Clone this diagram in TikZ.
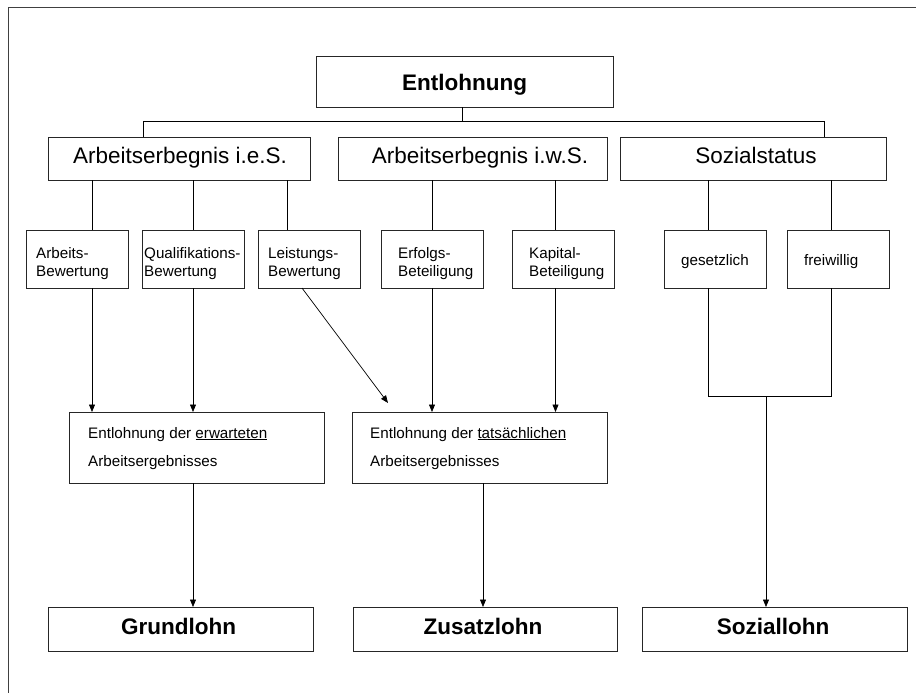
\documentclass[tikz,border=0pt]{standalone}
\usepackage{fontspec}
\setmainfont{Liberation Sans}
\usetikzlibrary{arrows.meta}
\begin{document}
\begin{tikzpicture}[x=1pt,y=-1pt,
  box/.style={draw=black!85, line width=0.9pt, inner sep=0pt, outer sep=0pt},
  bigtxt/.style={font=\fontsize{22.5}{27}\selectfont, inner sep=0pt, anchor=base},
  bigbold/.style={font=\fontsize{22.5}{27}\selectfont\bfseries, inner sep=0pt, anchor=base},
  smalltxt/.style={font=\fontsize{15.2}{17}\selectfont, inner sep=0pt, anchor=base west},
  conn/.style={line width=0.7pt, draw=black},
  arr/.style={conn, -{Triangle[length=7.5pt,width=6pt]}}
]
\useasboundingbox (0,0) rectangle (916,693);
\fill[white] (0,0) rectangle (916,693);
% frame
\draw[black!75, line width=0.8pt] (8,693) -- (8,7) -- (916,7);

% boxes
\node[box, minimum width=297pt, minimum height=51pt] (bEnt) at (464.5,81.5) {};
\node[box, minimum width=262pt, minimum height=43pt] (b1) at (179,158.5) {};
\node[box, minimum width=269pt, minimum height=43pt] (b2) at (472.5,158.5) {};
\node[box, minimum width=266pt, minimum height=43pt] (b3) at (753,158.5) {};

\node[box, minimum width=102pt, minimum height=58pt] (bA) at (77,259) {};
\node[box, minimum width=102pt, minimum height=58pt] (bQ) at (193,259) {};
\node[box, minimum width=102pt, minimum height=58pt] (bL) at (309,259) {};
\node[box, minimum width=102pt, minimum height=58pt] (bE) at (432,259) {};
\node[box, minimum width=102pt, minimum height=58pt] (bK) at (563,259) {};
\node[box, minimum width=102pt, minimum height=58pt] (bG) at (715,259) {};
\node[box, minimum width=102pt, minimum height=58pt] (bF) at (838,259) {};

\node[box, minimum width=255pt, minimum height=71pt] (bLow1) at (196.5,447.5) {};
\node[box, minimum width=255pt, minimum height=71pt] (bLow2) at (479.5,447.5) {};

\node[box, minimum width=265pt, minimum height=44pt] (bGr) at (180.5,629) {};
\node[box, minimum width=264pt, minimum height=44pt] (bZu) at (485,629) {};
\node[box, minimum width=265pt, minimum height=44pt] (bSo) at (774.5,629) {};

% texts
\node[bigbold] (tEnt) at (464.5,90.5) {Entlohnung};
\node[bigtxt] (t1) at (180,163) {Arbeitserbegnis i.e.S.};
\node[bigtxt] (t2) at (480,163) {Arbeitserbegnis i.w.S.};
\node[bigtxt] (t3) at (756,163) {Sozialstatus};

\node[smalltxt] (tA1) at (36,258.5) {Arbeits-};
\node[smalltxt] (tA2) at (36,276) {Bewertung};
\node[smalltxt] (tQ1) at (144,258.5) {Qualifikations-};
\node[smalltxt] (tQ2) at (144,276) {Bewertung};
\node[smalltxt] (tL1) at (268,258.5) {Leistungs-};
\node[smalltxt] (tL2) at (268,276) {Bewertung};
\node[smalltxt] (tE1) at (398,258.5) {Erfolgs-};
\node[smalltxt] (tE2) at (398,276) {Beteiligung};
\node[smalltxt] (tK1) at (529,258.5) {Kapital-};
\node[smalltxt] (tK2) at (529,276) {Beteiligung};
\node[smalltxt] (tG) at (681,265) {gesetzlich};
\node[smalltxt] (tF) at (804,265) {freiwillig};

\node[smalltxt] (tLow1a) at (88,438) {Entlohnung der \underline{erwarteten}};
\node[smalltxt] (tLow1b) at (88,466) {Arbeitsergebnisses};
\node[smalltxt] (tLow2a) at (370,438) {Entlohnung der \underline{tatsächlichen}};
\node[smalltxt] (tLow2b) at (370,466) {Arbeitsergebnisses};

\node[bigbold] (tGr) at (178.5,634) {Grundlohn};
\node[bigbold] (tZu) at (483,634) {Zusatzlohn};
\node[bigbold] (tSo) at (773,634) {Soziallohn};

% helper coordinates
\coordinate (hub) at (462,121);
\coordinate (c1) at (143,121);
\coordinate (c3) at (824,121);
\coordinate (xA) at (92,0);
\coordinate (xQ) at (193,0);
\coordinate (xL) at (287,0);
\coordinate (xE) at (432,0);
\coordinate (xK) at (555.5,0);
\coordinate (xG) at (708,0);
\coordinate (xF) at (831,0);
\coordinate (xZ) at (483,0);
\coordinate (join) at (766,396);

% top connectors
\draw[conn] (bEnt.south -| hub) -- (hub);
\draw[conn] (b1.north -| c1) -- (c1) -- (c3) -- (b3.north -| c3);

% level 2 -> level 3
\draw[conn] (b1.south -| xA) -- (bA.north -| xA);
\draw[conn] (b1.south -| xQ) -- (bQ.north -| xQ);
\draw[conn] (b1.south -| xL) -- (bL.north -| xL);
\draw[conn] (b2.south -| xE) -- (bE.north -| xE);
\draw[conn] (b2.south -| xK) -- (bK.north -| xK);
\draw[conn] (b3.south -| xG) -- (bG.north -| xG);
\draw[conn] (b3.south -| xF) -- (bF.north -| xF);

% level 3 -> lower boxes
\draw[arr] (bA.south -| xA) -- (bLow1.north -| xA);
\draw[arr] (bQ.south -| xQ) -- (bLow1.north -| xQ);
\draw[arr] ([xshift=-7pt]bL.south) -- ([xshift=36pt,yshift=9pt]bLow2.north west);
\draw[arr] (bE.south -| xE) -- (bLow2.north -| xE);
\draw[arr] (bK.south -| xK) -- (bLow2.north -| xK);

% social
\draw[conn] (bG.south -| xG) -- (xG |- join) -- (xF |- join) -- (bF.south -| xF);
\draw[arr] (join) -- (bSo.north -| join);

% lower -> bottom
\draw[arr] (bLow1.south -| xQ) -- (bGr.north -| xQ);
\draw[arr] (bLow2.south -| xZ) -- (bZu.north -| xZ);
\end{tikzpicture}
\end{document}
